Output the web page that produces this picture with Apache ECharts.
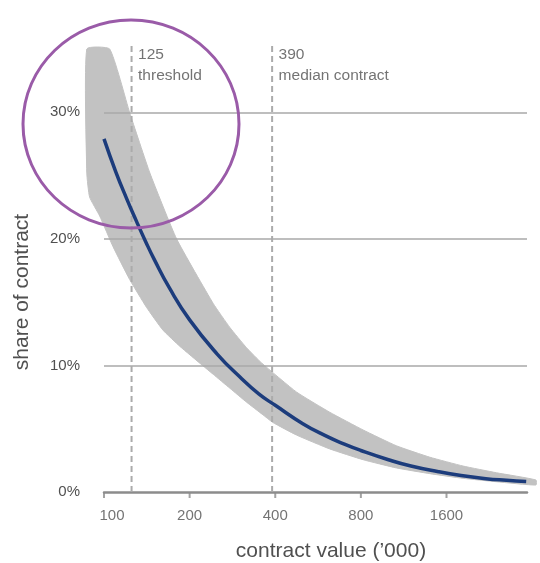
<!DOCTYPE html>
<html>
<head>
<meta charset="utf-8">
<script src="https://cdn.jsdelivr.net/npm/echarts@6/dist/echarts.min.js"></script>
<style>html,body{margin:0;padding:0;background:#fff;}#c{width:540px;height:563px;}</style>
</head>
<body>
<div id="c"></div>
<script>
// ---- data ----
const xTicks = [100, 200, 400, 800, 1600];
const xTickLabels = ['100', '200', '400', '800', '1600'];
const yGridValues = [10, 20, 30];
const refLineValues = [125, 390];
const refLineTop = 35.4;
const refLineLabels = ['125\nthreshold', '390\nmedian contract'];

// central estimate (blue line): contract value ('000) -> share of contract (%)
const curveX = [100, 110, 120, 130, 140, 150, 170, 200, 250, 300, 350, 400, 500, 600, 700, 800, 1000, 1200, 1500, 1800, 2200, 2600, 3050];
const curveY = [27.9, 25.3, 23.2, 21.4, 19.8, 18.4, 16.1, 13.6, 10.9, 9.1, 7.75, 6.85, 5.4, 4.45, 3.78, 3.28, 2.55, 2.05, 1.6, 1.3, 1.05, 0.92, 0.82];

// grey range band: upper and lower edges
const bandUpperX = [87, 104.7, 123, 145, 180, 242, 277, 317, 358, 475, 622, 815, 1067, 1398, 1830, 2398, 3300];
const bandUpperY = [35, 35, 30, 25.2, 20, 14.9, 13.0, 11.4, 10.2, 7.9, 6.3, 4.9, 3.65, 2.75, 2.05, 1.52, 0.95];
const bandLowerX = [87, 89, 96.6, 107.5, 123, 141, 161, 185, 222, 242, 277, 317, 362, 392, 475, 622, 815, 1067, 1398, 1830, 2398, 3300];
const bandLowerY = [25.2, 23.3, 21.8, 19.4, 16.8, 14.6, 12.8, 11.5, 10.0, 9.3, 8.2, 7.1, 6.1, 5.5, 4.5, 3.4, 2.55, 1.9, 1.45, 1.08, 0.81, 0.55];

// ---- chart ----
const FONT = 'Liberation Sans';
const TXT = '#505050';
const chart = echarts.init(document.getElementById('c'), null, {renderer: 'canvas'});

const curveData = curveX.map((x, i) => [x, curveY[i]]);
const tickData = xTicks.map((x, i) => ({
  value: [x, 0],
  label: {formatter: xTickLabels[i], offset: i === 0 ? [8, 0] : [0, 0]}
}));
const annotData = refLineValues.map((x, i) => ({
  value: [x, 35],
  label: {formatter: refLineLabels[i]}
}));

const gridMarks = yGridValues.map(v => ({yAxis: v}));
const refLineSeries = refLineValues.map(v => ({
  type: 'line', name: 'ref' + v, data: [[v, 0], [v, refLineTop]], clip: false, silent: true, z: 5,
  showSymbol: false, symbol: 'none',
  lineStyle: {color: '#ababab', width: 2, type: [6, 4]}
}));

chart.setOption({
  animation: false,
  textStyle: {fontFamily: FONT},
  grid: {left: 104, right: 13, top: 49, bottom: 71, containLabel: false},
  xAxis: {
    type: 'log', logBase: 2, min: 100, max: 3070,
    axisLine: {show: true, lineStyle: {color: '#8c8c8c', width: 2.5}},
    axisTick: {show: false}, axisLabel: {show: false}, splitLine: {show: false}
  },
  yAxis: {
    type: 'value', min: 0, max: 35, interval: 10,
    axisLine: {show: false}, axisTick: {show: false}, splitLine: {show: false},
    axisLabel: {show: true, formatter: '{value}%', color: TXT, fontSize: 15, fontFamily: FONT, margin: 24, showMaxLabel: false}
  },
  series: [
    {
      type: 'custom', name: 'band', clip: false, silent: true, z: 2,
      data: [[100, 0]],
      renderItem: function (params, api) {
        const up = bandUpperX.map((x, i) => api.coord([x, bandUpperY[i]]));
        const lo = bandLowerX.map((x, i) => api.coord([x, bandLowerY[i]]));
        return {
          type: 'polygon',
          shape: {points: up.concat(lo.slice().reverse()), smooth: 0.15},
          style: {fill: '#c2c2c2', stroke: '#c2c2c2', lineWidth: 1}
        };
      },
      markLine: {
        silent: true, symbol: ['none', 'none'], z: 5,
        label: {show: false},
        lineStyle: {color: '#a9a9a9', width: 1.5, type: 'solid'},
        data: gridMarks
      }
    }
  ].concat(refLineSeries).concat([
    {
      type: 'line', name: 'central', data: curveData, smooth: 0.5, showSymbol: false, z: 8,
      lineStyle: {color: '#1c3c7c', width: 3.5}, silent: true
    },
    {
      type: 'scatter', name: 'ticks', data: tickData, clip: false, silent: true, z: 9,
      symbol: 'rect', symbolSize: [2, 6], symbolOffset: [0, 3],
      itemStyle: {color: '#8c8c8c'},
      label: {show: true, position: 'bottom', distance: 10, color: TXT, fontSize: 15, fontFamily: FONT}
    },
    {
      type: 'scatter', name: 'annotations', data: annotData, clip: false, silent: true, z: 9,
      symbolSize: 1, itemStyle: {color: 'transparent'},
      label: {show: true, position: [7, -4], align: 'left', verticalAlign: 'top', color: TXT, fontSize: 15.5, lineHeight: 21, fontFamily: FONT}
    }
  ]),
  graphic: [
    {type: 'ellipse', z: 100, shape: {cx: 131, cy: 124, rx: 108, ry: 104}, style: {fill: 'none', stroke: '#9a5ba8', lineWidth: 3}},
    {type: 'text', z: 100, x: 331, y: 551, style: {text: 'contract value (\u2019000)', fill: TXT, font: '21px "Liberation Sans"', align: 'center', verticalAlign: 'middle'}},
    {type: 'text', z: 100, x: 22, y: 292, rotation: Math.PI / 2, style: {text: 'share of contract', fill: TXT, font: '21px "Liberation Sans"', align: 'center', verticalAlign: 'middle'}}
  ]
});
</script>
</body>
</html>
